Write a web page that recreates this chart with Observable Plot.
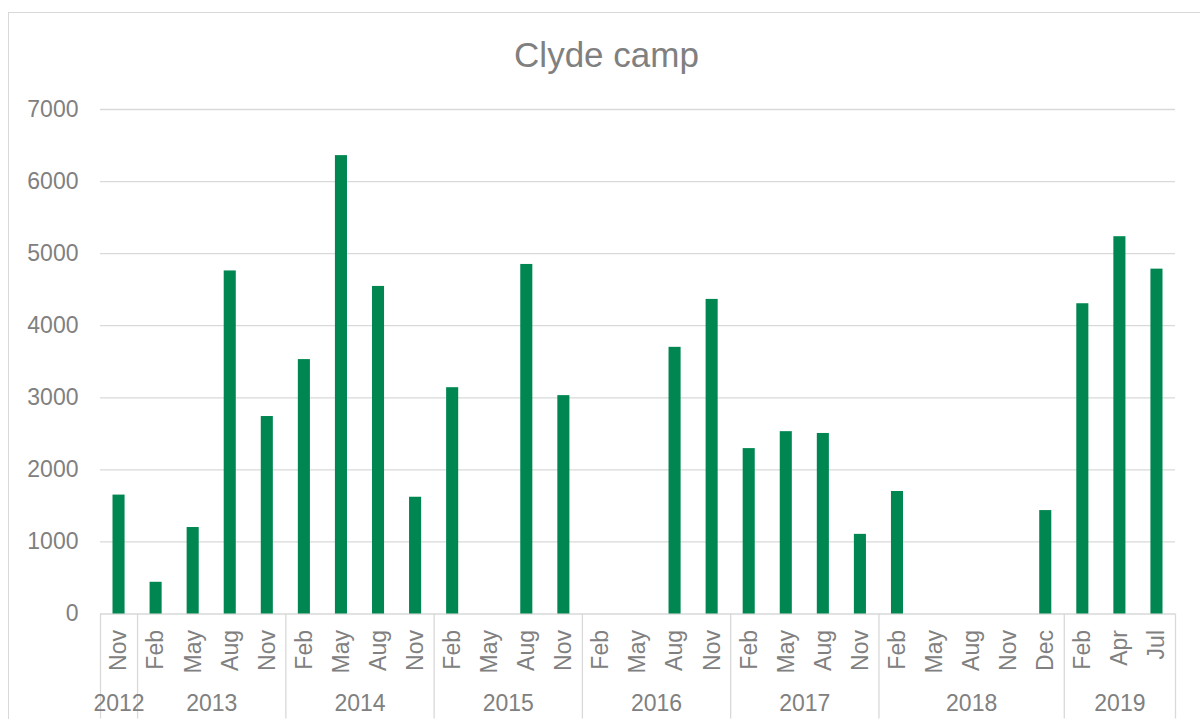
<!DOCTYPE html>
<html>
<head>
<meta charset="utf-8">
<script src="https://cdn.jsdelivr.net/npm/d3@7"></script>
<script src="https://cdn.jsdelivr.net/npm/@observablehq/plot@0.6"></script>
<style>
  html, body { margin: 0; padding: 0; background: #fff; overflow: hidden; }
  #wrap { position: relative; width: 1200px; height: 724px; }
  #border { position: absolute; left: 8px; top: 12px; width: 1210px; height: 706px;
            border-left: 1.3px solid #d9d9d9; border-top: 1.3px solid #d9d9d9; }
  #title { position: absolute; left: 0; width: 1213px; top: 35px; text-align: center;
           font-family: "Liberation Sans", Arial, sans-serif; font-size: 35px; color: #808080; line-height: 40px; }
  #chart { position: absolute; left: 0; top: 0; }
</style>
</head>
<body>
<div id="wrap">
  <div id="border"></div>
  <div id="title"></div>
  <div id="chart"></div>
</div>
<script>
const title = "Clyde camp";
const periodYear = ["2012",
  "2013","2013","2013","2013",
  "2014","2014","2014","2014",
  "2015","2015","2015","2015",
  "2016","2016","2016","2016",
  "2017","2017","2017","2017",
  "2018","2018","2018","2018","2018",
  "2019","2019","2019"];
const periodMonth = ["Nov",
  "Feb","May","Aug","Nov",
  "Feb","May","Aug","Nov",
  "Feb","May","Aug","Nov",
  "Feb","May","Aug","Nov",
  "Feb","May","Aug","Nov",
  "Feb","May","Aug","Nov","Dec",
  "Feb","Apr","Jul"];
const values = [1650,
  440, 1200, 4760, 2740,
  3530, 6360, 4545, 1620,
  3140, null, 4850, 3030,
  null, null, 3700, 4365,
  2295, 2530, 2505, 1105,
  1700, null, null, null, 1435,
  4305, 5235, 4785];
const yTicks = [0, 1000, 2000, 3000, 4000, 5000, 6000, 7000];

document.getElementById("title").textContent = title;

const data = values.map((v, i) => ({i, year: periodYear[i], month: periodMonth[i], value: v}));
const bars = data.filter(d => d.value != null);

// year groups
const groups = [];
data.forEach(d => {
  const g = groups[groups.length - 1];
  if (g && g.year === d.year) g.end = d.i + 1;
  else groups.push({year: d.year, start: d.i, end: d.i + 1});
});
const boundaries = [0, ...groups.map(g => g.end)];

const gray = "#808080";
const light = "#d9d9d9";

const chart = Plot.plot({
  width: 1200,
  height: 724,
  marginLeft: 100,
  marginRight: 25,
  marginTop: 109,
  marginBottom: 110.5,
  style: {fontFamily: "'Liberation Sans', Arial, sans-serif", fontSize: "23px", color: gray, background: "transparent", overflow: "visible"},
  x: {domain: [0, data.length], axis: null},
  y: {domain: [0, 7000], axis: null},
  marks: [
    Plot.gridY(yTicks, {stroke: light, strokeOpacity: 1, strokeWidth: 1.3}),
    Plot.axisY(yTicks, {tickSize: 0, tickPadding: 22, fill: gray, label: null, fontSize: 23, tickFormat: d => String(d)}),
    Plot.rectY(bars, {x1: d => d.i, x2: d => d.i + 1, y: "value", insetLeft: 12.5, insetRight: 12.5, fill: "#008751"}),
    Plot.axisX(boundaries, {tickSize: 105, stroke: light, strokeWidth: 1.3, tickFormat: () => "", label: null}),
    Plot.text(data, {x: d => d.i + 0.5, text: "month", frameAnchor: "bottom", lineAnchor: "middle", rotate: -90, textAnchor: "end", dy: 16, fill: gray, fontSize: 23}),
    Plot.text(groups, {x: d => (d.start + d.end) / 2, text: "year", frameAnchor: "bottom", lineAnchor: "middle", textAnchor: "middle", dy: 90, fill: gray, fontSize: 23})
  ]
});
document.getElementById("chart").appendChild(chart);
</script>
</body>
</html>
